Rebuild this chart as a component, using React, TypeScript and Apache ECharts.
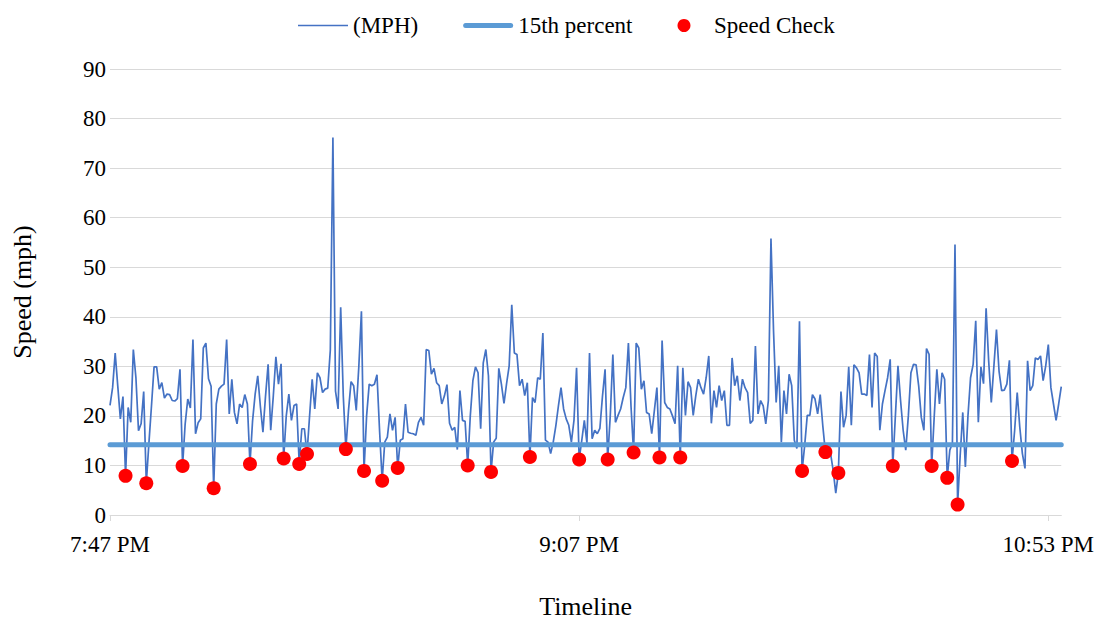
import React, { useEffect, useRef } from 'react';
import * as echarts from 'echarts';

// Speed readings (mph), one per observation along the timeline
const speeds: number[] = [
  22.1, 25.7, 32.7, 26, 19.4, 23.9, 7.9, 21.7, 18.7, 33.4,
  27.7, 17, 18.4, 24.9, 6.4, 14.4, 22, 29.9, 29.9, 25.4,
  26.7, 23.6, 24.4, 24.3, 23.1, 23.0, 23.5, 29.4, 9.9, 18.4,
  23.4, 21.6, 35.4, 16.4, 18.6, 19.4, 33.7, 34.7, 27.5, 26,
  5.4, 22.4, 25.4, 26, 26.4, 35.4, 20.4, 27.4, 20.7, 18.4,
  22.4, 21.7, 24.3, 22.4, 10.3, 19, 24.4, 28.1, 22, 16.7,
  24, 30.4, 17.1, 24, 31.9, 26.4, 30.5, 11.4, 20, 24.4,
  19.1, 22.1, 22.4, 10.3, 17.4, 17.4, 12.3, 20, 27.4, 21.4,
  28.7, 27.7, 24.7, 25.4, 25.6, 33.3, 76.2, 25, 21.4, 41.9,
  24, 13.3, 21, 26.9, 26.1, 21.1, 30, 41.1, 8.9, 20,
  26.4, 26.1, 26.4, 28.3, 17, 6.9, 14.7, 15.7, 20.4, 17.1,
  19.7, 9.5, 15.1, 15.4, 22.4, 16.7, 16.5, 16.4, 16.1, 18.7,
  19.7, 18.1, 33.4, 33.2, 28.4, 29.6, 26.7, 26.1, 22.4, 24,
  26.3, 18.5, 17.1, 17.7, 13.2, 25.1, 19.1, 18.9, 10.0, 20,
  27.1, 29.9, 28.7, 17.4, 30.7, 33.4, 28.1, 8.7, 14.7, 15.5,
  29.6, 26.4, 22.5, 26.5, 30.1, 42.4, 32.7, 32.4, 26.1, 27.4,
  24.1, 26.7, 11.7, 23.7, 22.7, 27.7, 27.4, 36.7, 15.1, 14.7,
  12.4, 14.7, 18, 22, 25.7, 21.4, 19.4, 18.1, 14.7, 19.1,
  29.7, 11.2, 15, 19.1, 14.5, 32.7, 15.4, 17.1, 16.4, 17.5,
  24, 29.4, 11.2, 20, 32.4, 18.7, 20.1, 21.4, 23.7, 25.7,
  34.7, 22, 12.6, 34.7, 33.7, 25.4, 27.1, 20.7, 20.4, 16.4,
  21, 25.7, 11.6, 35.2, 22.7, 21.7, 21.4, 20, 18.4, 30.1,
  11.6, 29.7, 20.1, 26.9, 25.7, 20.1, 24.1, 27.4, 25.7, 24.4,
  27.7, 32.1, 18.5, 25.1, 21.7, 26.1, 23.1, 25.1, 18.1, 18.1,
  31.7, 26.1, 28.1, 23.1, 27.4, 25.7, 24.7, 18.5, 19.1, 34.1,
  20.4, 23.1, 22, 18.4, 23.1, 55.8, 37, 22.7, 30.1, 14.7,
  25.1, 20.4, 28.4, 26.1, 15.1, 13.4, 39.1, 8.9, 14, 20.1,
  20.1, 24.3, 23.4, 20.4, 24.3, 18, 12.7, 13, 12.4, 9,
  4.4, 8.5, 24.9, 17.7, 20.1, 29.9, 18.1, 30.3, 29.7, 28.7,
  24.4, 24.4, 24.1, 32.4, 21.7, 32.7, 32, 17.1, 22.4, 25.1,
  27.7, 31.4, 9.9, 20, 30.1, 23.1, 17.1, 13.1, 20, 28.7,
  30.4, 30.3, 26, 19.7, 17.1, 33.6, 32.4, 9.9, 20, 29.4,
  22.4, 28.7, 27.4, 7.5, 13.1, 14.5, 54.6, 2.1, 12, 20.7,
  9.7, 20, 27.7, 30.4, 39.2, 18.7, 29.9, 26.5, 41.7, 31,
  22.7, 30, 37.4, 29, 25.1, 25.2, 26.4, 31.2, 10.9, 17,
  24.7, 17.7, 12.4, 9.4, 31.1, 25.1, 26.1, 31.7, 31.4, 32.1,
  27.1, 30.1, 34.4, 25.7, 22.4, 19.1, 22.4, 25.9,
];

// Speed check points: observation index and speed (mph)
const checkIdx: number[] = [6, 14, 28, 40, 54, 67, 73, 76, 91, 98, 105, 111, 138, 147, 162, 181, 192, 202, 212, 220, 267, 276, 281, 302, 317, 323, 327, 348];
const checkVal: number[] = [7.9, 6.4, 9.9, 5.4, 10.3, 11.4, 10.3, 12.3, 13.3, 8.9, 6.9, 9.5, 10.0, 8.7, 11.7, 11.2, 11.2, 12.6, 11.6, 11.6, 8.9, 12.7, 8.5, 9.9, 9.9, 7.5, 2.1, 10.9];

// 15th percentile speed (mph)
const pct15 = 14.2;

// Timeline tick labels and the observations they sit on
const tickIdx: number[] = [0, 181, 362];
const tickLabels: string[] = ['7:47 PM', '9:07 PM', '10:53 PM'];

const FONT = '"Liberation Serif", "Times New Roman", serif';

export default function App() {
  const ref = useRef<HTMLDivElement>(null);

  useEffect(() => {
    if (!ref.current) return;
    document.documentElement.style.overflow = 'hidden';
    document.body.style.margin = '0';
    document.body.style.overflow = 'hidden';
    const chart = echarts.init(ref.current, null, { renderer: 'svg' });
    const cats = speeds.map((_, i) => String(i));
    const checkData: (number | string)[] = speeds.map(() => '-');
    checkIdx.forEach((ix, k) => {
      checkData[ix] = checkVal[k];
    });
    const pctData = speeds.map(() => pct15);
    const labelMap = new Map<number, string>();
    tickIdx.forEach((ix, k) => labelMap.set(ix, tickLabels[k]));

    chart.setOption({
      animation: false,
      textStyle: { fontFamily: FONT, color: '#000' },
      legend: {
        top: 9,
        left: 293,
        itemWidth: 50,
        itemHeight: 13,
        itemGap: 45,
        textStyle: { fontFamily: FONT, fontSize: 23, color: '#000' },
        data: [
          { name: '(MPH)', icon: 'path://M0,0h50v1.6h-50z' },
          { name: '15th percent', icon: 'path://M2.5,0h45a2.5,2.5 0 0 1 0,5h-45a2.5,2.5 0 0 1 0,-5z' },
          { name: 'Speed Check', icon: 'circle' },
        ],
      },
      grid: { left: 110, right: 32, top: 69, bottom: 106, containLabel: false },
      xAxis: {
        type: 'category',
        data: cats,
        boundaryGap: false,
        name: 'Timeline',
        nameLocation: 'middle',
        nameGap: 78,
        nameTextStyle: { fontFamily: FONT, fontSize: 26, color: '#000' },
        axisLine: { lineStyle: { color: '#D9D9D9', width: 1 } },
        axisTick: {
          show: true,
          interval: (i: number) => labelMap.has(i),
          length: 6,
          lineStyle: { color: '#D9D9D9' },
        },
        axisLabel: {
          interval: (i: number) => labelMap.has(i),
          formatter: (_v: string, i: number) => labelMap.get(i) ?? '',
          margin: 18,
          fontFamily: FONT,
          fontSize: 23,
          color: '#000',
        },
        splitLine: { show: false },
      },
      yAxis: {
        type: 'value',
        min: 0,
        max: 90,
        interval: 10,
        name: 'Speed (mph)',
        nameLocation: 'middle',
        nameGap: 75,
        nameTextStyle: { fontFamily: FONT, fontSize: 26, color: '#000' },
        axisLine: { show: false },
        axisTick: { show: false },
        axisLabel: { margin: 4, fontFamily: FONT, fontSize: 23, color: '#000' },
        splitLine: { lineStyle: { color: '#D9D9D9', width: 1 } },
      },
      series: [
        {
          name: '(MPH)',
          type: 'line',
          data: speeds,
          symbol: 'none',
          lineStyle: { color: '#4472C4', width: 1.7 },
          itemStyle: { color: '#4472C4' },
          z: 2,
        },
        {
          name: '15th percent',
          type: 'line',
          data: pctData,
          symbol: 'none',
          lineStyle: { color: '#5B9BD5', width: 5, cap: 'round' },
          itemStyle: { color: '#5B9BD5' },
          z: 3,
        },
        {
          name: 'Speed Check',
          type: 'scatter',
          data: checkData,
          symbol: 'circle',
          symbolSize: 14,
          itemStyle: { color: '#FF0000', opacity: 1 },
          z: 4,
        },
      ],
    });

    return () => {
      chart.dispose();
    };
  }, []);

  return (
    <div
      ref={ref}
      style={{ position: 'absolute', left: 0, top: 0, width: 1097, height: 624, overflow: 'hidden' }}
    />
  );
}
